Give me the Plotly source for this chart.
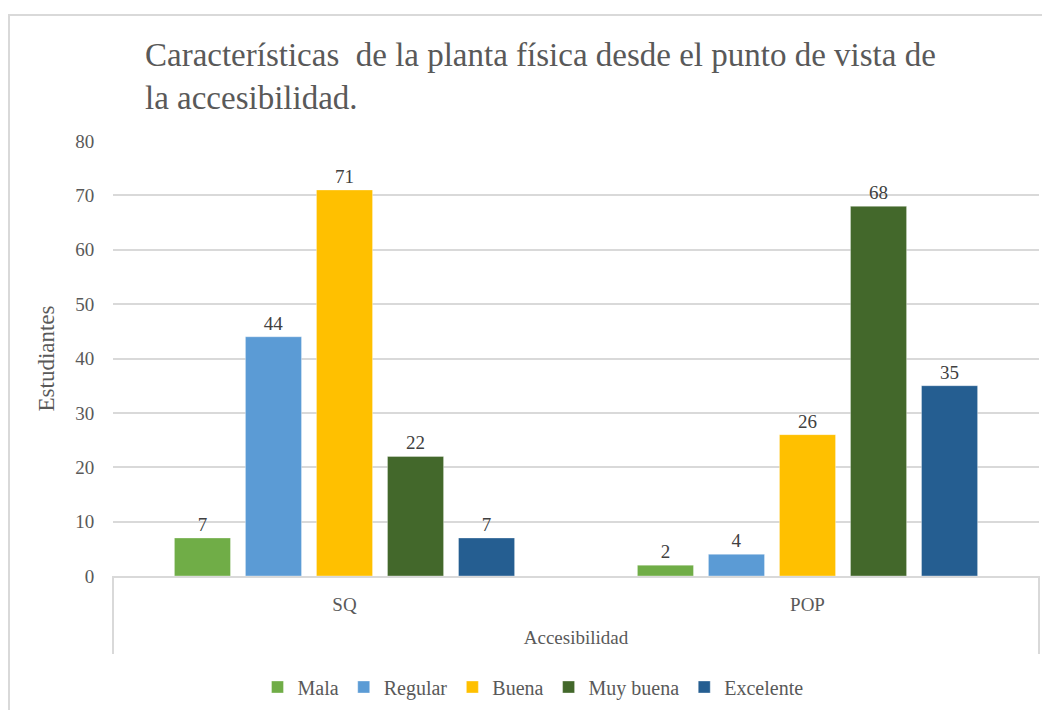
import plotly.graph_objects as go

categories = ["SQ", "POP"]
series_names = ["Mala", "Regular", "Buena", "Muy buena", "Excelente"]
mala = [7, 2]
regular = [44, 4]
buena = [71, 26]
muy_buena = [22, 68]
excelente = [7, 35]
colors = ["#70AD47", "#5B9BD5", "#FFC000", "#43682B", "#255E91"]

FONT = "Liberation Serif, Times New Roman, serif"
TXT = "#595959"

fig = go.Figure()
for name, vals, col in zip(series_names, [mala, regular, buena, muy_buena, excelente], colors):
    fig.add_trace(go.Bar(
        x=categories, y=vals, name=name,
        marker=dict(color=col, line=dict(color="rgba(255,255,255,0.35)", width=1)),
        text=[str(v) for v in vals], textposition="outside",
        textfont=dict(family=FONT, size=19, color="#404040"),
        cliponaxis=False,
    ))

# page body has an 8px offset; coordinates below are reference pixels minus offset
OFF = 8
W, H = 1050, 710
ml = 113 - OFF
mr = W - (1039 - OFF)
mt = 141 - OFF
mb = H - (576 - OFF)
pw = W - ml - mr
ph = H - mt - mb

def px_x(x):
    return (x - OFF - ml) / pw

def px_y(y):
    return (H - mb - (y - OFF)) / ph

fig.update_layout(
    width=W, height=H,
    margin=dict(l=ml, r=mr, t=mt, b=mb, autoexpand=False),
    paper_bgcolor="white", plot_bgcolor="white",
    barmode="group", bargap=0.233, bargroupgap=0.21,
    font=dict(family=FONT, color=TXT, size=19),
    title=dict(
        text="Características  de la planta física desde el punto de vista de<br>la accesibilidad.",
        x=(145 - OFF) / W, xanchor="left", xref="container",
        y=1 - (66 - OFF) / H, yanchor="top", yref="container",
        font=dict(family=FONT, size=33, color=TXT),
        automargin=False,
    ),
    showlegend=True,
    legend=dict(
        orientation="h", x=px_x(533), xanchor="center", y=px_y(687), yanchor="middle",
        font=dict(family=FONT, size=20, color=TXT),
        traceorder="normal", itemwidth=30,
    ),
    xaxis=dict(
        automargin=False,
        showline=True, linecolor="#D9D9D9", linewidth=2,
        ticks="outside", ticklen=10, tickcolor="rgba(0,0,0,0)",
        tickfont=dict(family=FONT, size=19, color=TXT),
        title=dict(text="Accesibilidad", standoff=17, font=dict(family=FONT, size=19, color=TXT)),
        showgrid=False,
    ),
    yaxis=dict(
        automargin=False,
        range=[0, 80], dtick=10, showgrid=True, gridcolor="#D9D9D9", gridwidth=1.5,
        zeroline=False, showline=False,
        ticks="outside", ticklen=14, tickcolor="rgba(0,0,0,0)",
        tickfont=dict(family=FONT, size=19, color=TXT),
        title=dict(text="Estudiantes", standoff=14, font=dict(family=FONT, size=23, color=TXT)),
    ),
    shapes=[
        dict(type="line", xref="paper", yref="paper", x0=0, x1=0, y0=0, y1=px_y(654),
             line=dict(color="#D9D9D9", width=2)),
        dict(type="line", xref="paper", yref="paper", x0=1, x1=1, y0=0, y1=px_y(654),
             line=dict(color="#D9D9D9", width=2)),
        dict(type="rect", xref="paper", yref="paper", x0=px_x(9), x1=px_x(1070),
             y0=px_y(730), y1=px_y(15), line=dict(color="#D9D9D9", width=2)),
    ],
)

fig.write_html("out.html")
